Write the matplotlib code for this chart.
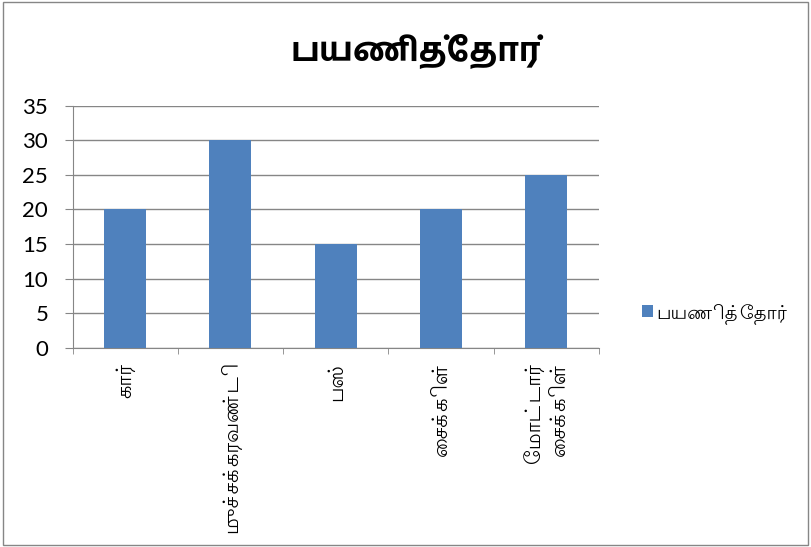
import matplotlib
matplotlib.use('Agg')
import matplotlib.pyplot as plt
from matplotlib.patches import Rectangle

categories = ['கார்', 'முச்சக்கரவண்டி', 'பஸ்', 'சைக்கிள்', 'மோட்டார்\nசைக்கிள்']
values = [20, 30, 15, 20, 25]
series_name = 'பயணித்தோர்'
title = 'பயணித்தோர்'
yticks = [0, 5, 10, 15, 20, 25, 30, 35]

# matplotlib 3.10 draws Tamil without shaping, so put the vowel signs
# that stand before the consonant into visual order ourselves
PRE = '\u0bc6\u0bc7\u0bc8'
SPLIT = {'\u0bca': ('\u0bc6', '\u0bbe'), '\u0bcb': ('\u0bc7', '\u0bbe'), '\u0bcc': ('\u0bc6', '\u0bd7')}


def visual(s):
    out = []
    for ch in s:
        if ch in PRE and out:
            out.insert(len(out) - 1, ch)
        elif ch in SPLIT and out:
            a, b = SPLIT[ch]
            out.insert(len(out) - 1, a)
            out.append(b)
        else:
            out.append(ch)
    return ''.join(out)


plt.rcParams['font.family'] = ['Lato', 'Lohit Tamil', 'DejaVu Sans']

fig = plt.figure(figsize=(8.11, 5.47), dpi=100)
ax = fig.add_axes([0.0894, 0.3644, 0.649, 0.4424])

x = list(range(len(categories)))
ax.bar(x, values, width=0.4, color='#4F81BD', label=visual(series_name), zorder=3)

ax.set_xlim(-0.5, len(categories) - 0.5)
ax.set_ylim(0, 35)
ax.set_yticks(yticks)
ax.tick_params(axis='y', labelsize=16, length=5.5, color='#868686', pad=12)
ax.grid(axis='y', color='#868686', linewidth=1, zorder=0)

ax.set_xticks(x)
ax.set_xticklabels([visual(c) for c in categories], rotation=90, fontsize=15,
                   va='top', ha='center', multialignment='right', linespacing=1.3)
ax.tick_params(axis='x', which='major', length=0, pad=9)
ax.set_xticks([i - 0.5 for i in range(len(categories) + 1)], minor=True)
ax.tick_params(axis='x', which='minor', length=4.5, color='#868686')

for s in ['top', 'right']:
    ax.spines[s].set_visible(False)
for s in ['left', 'bottom']:
    ax.spines[s].set_color('#868686')

fig.text(0.512, 0.905, visual(title), fontsize=24, fontweight='bold',
         family=['Hind Madurai', 'DejaVu Sans'], ha='center', va='center')

fig.legend(loc='center left', bbox_to_anchor=(0.77, 0.427), frameon=False,
           fontsize=14, handlelength=0.55, handleheight=0.55, handletextpad=0.2)

fig.patches.append(Rectangle((0.004, 0.004), 0.992, 0.992, transform=fig.transFigure,
                             fill=False, edgecolor='#868686', linewidth=1))

fig.savefig('out.png', dpi=100)
